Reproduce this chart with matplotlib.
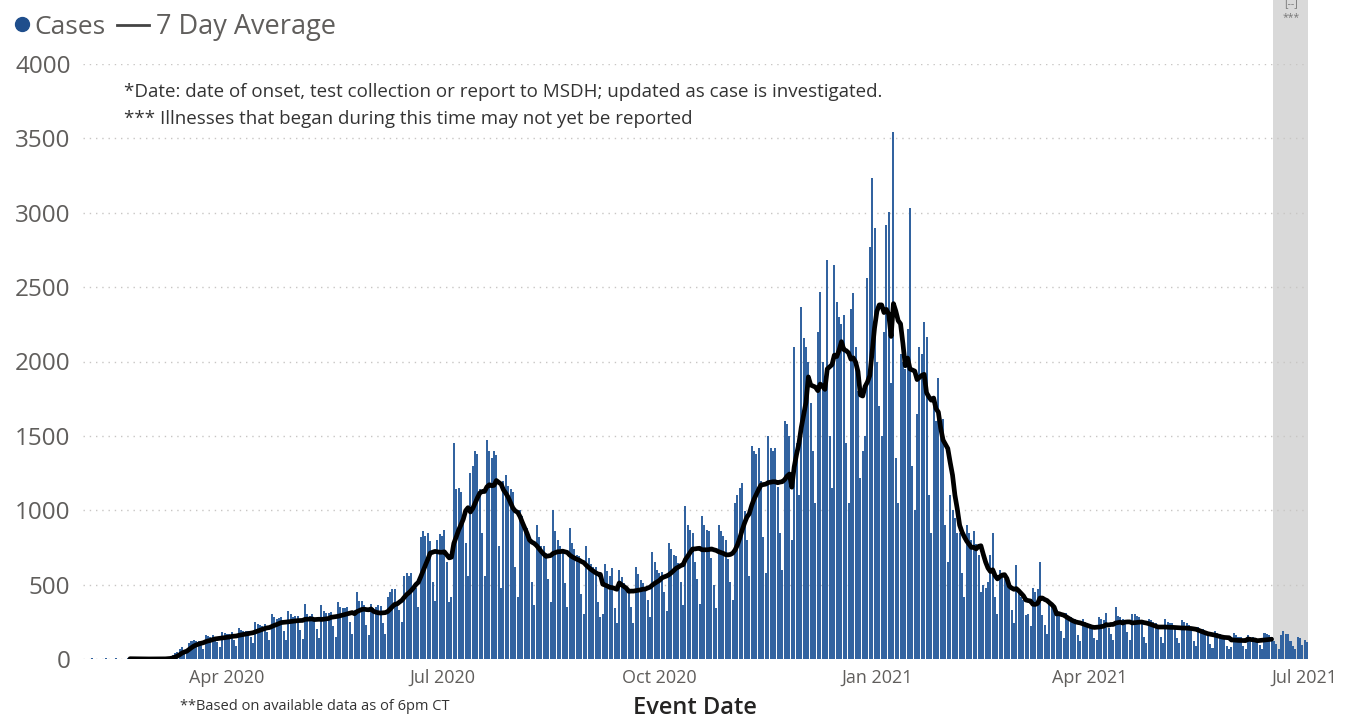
import numpy as np
import pandas as pd
import matplotlib
matplotlib.use("Agg")
import matplotlib.pyplot as plt
import matplotlib.dates as mdates
from matplotlib.lines import Line2D

plt.rcParams['font.family'] = ['Open Sans', 'DejaVu Sans']

# daily cases by event date, one row per week (Sat..Fri), first day 2020-02-01
feb_mar_2020 = [
    [0, 3, 0, 4, 2, 0, 3],
    [2, 0, 4, 3, 0, 2, 4],
    [0, 3, 2, 0, 4, 0, 2],
    [0, 0, 0, 1, 0, 0, 1],
    [0, 0, 1, 0, 1, 2, 3],
    [10, 8, 25, 38, 50, 68, 81],
    [60, 45, 110, 120, 125, 120, 120],
    [100, 70, 160, 155, 150, 160, 150],
    [115, 80, 180, 175, 165, 170, 179],
]
apr_jun_2020 = [
    [125, 90, 210, 195, 190, 190, 190],
    [150, 110, 250, 235, 230, 225, 235],
    [180, 125, 300, 285, 270, 275, 280],
    [190, 130, 320, 300, 285, 290, 291],
    [195, 135, 370, 305, 290, 300, 260],
    [205, 140, 360, 320, 310, 310, 315],
    [220, 150, 385, 350, 340, 340, 350],
    [250, 170, 330, 450, 390, 390, 365],
    [230, 160, 370, 340, 350, 360, 353],
    [240, 170, 420, 450, 470, 470, 370],
    [330, 250, 560, 580, 560, 580, 500],
    [480, 350, 820, 860, 830, 850, 794],
    [520, 390, 800, 840, 830, 870, 650],
]
jul_sep_2020 = [
    [380, 420, 1450, 1140, 1150, 1120, 920],
    [780, 560, 1250, 1300, 1400, 1380, 1142],
    [850, 560, 1470, 1400, 1350, 1400, 1370],
    [760, 480, 1200, 1240, 1160, 1140, 1125],
    [620, 420, 1000, 960, 900, 880, 820],
    [520, 360, 900, 820, 760, 760, 710],
    [540, 380, 1000, 860, 800, 760, 735],
    [510, 350, 880, 780, 740, 700, 695],
    [440, 300, 760, 680, 640, 620, 620],
    [380, 280, 300, 640, 590, 560, 610],
    [340, 240, 600, 550, 510, 480, 465],
    [350, 240, 620, 570, 530, 510, 470],
    [400, 280, 720, 650, 600, 580, 585],
]
oct_dec_2020 = [
    [450, 320, 780, 740, 700, 690, 646],
    [520, 360, 1030, 900, 870, 850, 650],
    [540, 370, 960, 900, 870, 860, 680],
    [500, 340, 900, 860, 830, 800, 670],
    [520, 400, 1050, 1100, 1150, 1180, 998],
    [800, 560, 1430, 1400, 1380, 1420, 1200],
    [820, 580, 1500, 1420, 1400, 1420, 1155],
    [850, 600, 1600, 1580, 1500, 800, 2100],
    [1450, 1100, 2366, 2158, 2100, 2000, 1720],
    [1400, 1050, 2200, 2467, 2000, 1850, 2683],
    [1500, 1150, 2649, 2400, 2300, 2250, 2311],
    [1450, 1050, 2350, 2460, 2100, 1800, 1215],
    [1400, 1500, 2560, 2770, 3234, 2900, 2000],
]
jan_mar_2021 = [
    [1700, 1500, 2200, 2918, 3005, 1857, 3543],
    [1350, 1050, 2050, 2000, 1950, 2218, 3032],
    [1300, 1000, 1650, 2100, 2050, 2265, 2165],
    [1100, 850, 1750, 1600, 1889, 1500, 1615],
    [900, 650, 1100, 1000, 950, 850, 850],
    [580, 420, 900, 850, 800, 860, 770],
    [700, 450, 500, 480, 520, 700, 850],
    [420, 300, 600, 560, 540, 520, 490],
    [330, 240, 632, 460, 420, 400, 297],
    [300, 220, 480, 450, 470, 652, 298],
    [230, 170, 380, 360, 350, 330, 315],
    [190, 140, 310, 290, 280, 270, 270],
    [160, 120, 270, 250, 240, 235, 230],
]
apr_jul_2021 = [
    [140, 130, 280, 270, 260, 310, 206],
    [170, 130, 348, 290, 280, 270, 248],
    [180, 130, 300, 300, 290, 280, 263],
    [150, 110, 270, 260, 250, 240, 225],
    [150, 110, 270, 250, 245, 240, 219],
    [140, 105, 260, 250, 240, 230, 210],
    [120, 90, 215, 205, 200, 190, 170],
    [100, 75, 185, 175, 170, 160, 150],
    [90, 70, 80, 175, 160, 150, 150],
    [85, 65, 160, 150, 145, 140, 116],
    [95, 70, 175, 165, 160, 150, 123],
    [100, 70, 160, 185, 170, 165, 120],
    [90, 70, 150, 140, 95, 125, 115],
]

first_day = '2020-02-01'
avg_start = '2020-02-20'
avg_end = '2021-06-17'
lag_start = '2021-06-18'   # shaded "may not yet be reported" window

tick_dates = ['2020-04-01', '2020-07-01', '2020-10-01', '2021-01-01', '2021-04-01', '2021-07-01']
tick_labels = ['Apr 2020', 'Jul 2020', 'Oct 2020', 'Jan 2021', 'Apr 2021', 'Jul 2021']
y_ticks = [0, 500, 1000, 1500, 2000, 2500, 3000, 3500, 4000]

cases = np.concatenate([np.ravel(s) for s in
                        [feb_mar_2020, apr_jun_2020, jul_sep_2020,
                         oct_dec_2020, jan_mar_2021, apr_jul_2021]])
dates = pd.date_range(first_day, periods=len(cases), freq='D')
series = pd.Series(cases, index=dates, dtype=float)
avg = series.rolling(7, min_periods=1).mean()
avg = avg[(avg.index >= avg_start) & (avg.index <= avg_end)]

W, H = 1351, 719
fig = plt.figure(figsize=(W / 100, H / 100), dpi=100)


def fx(x):
    return x / W


def fy(y):
    return 1 - y / H


left, right, top, bottom = 83, 1308, 64, 659
ax = fig.add_axes([fx(left), fy(bottom), (right - left) / W, (bottom - top) / H])

bar_blue = '#3263a0'
ax.bar(dates, cases, width=0.86, color=bar_blue, linewidth=0, zorder=2)
ax.plot(avg.index, avg.values, color='black', lw=3.4, solid_joinstyle='round',
        solid_capstyle='round', zorder=3)

x0 = mdates.date2num(pd.Timestamp(first_day)) - 0.9
x1 = mdates.date2num(dates[-1]) + 0.4
ax.set_xlim(x0, x1)
ax.set_ylim(0, 4000)

# shaded reporting-lag window, reaching up to the top edge of the figure
ax.axvspan(mdates.date2num(pd.Timestamp(lag_start)) - 0.5, x1, ymin=0,
           ymax=bottom / (bottom - top), color='#d9d9d9', lw=0, zorder=0, clip_on=False)

ax.set_yticks(y_ticks)
ax.set_xticks([mdates.date2num(pd.Timestamp(d)) for d in tick_dates])
ax.set_xticklabels(tick_labels)
ax.tick_params(axis='y', length=0, pad=9, labelsize=17.5, labelcolor='#605e5c')
ax.tick_params(axis='x', length=0, pad=7, labelsize=13, labelcolor='#605e5c')
ax.yaxis.grid(True, color='#c8c6c4', linestyle=(0, (1, 3.5)), linewidth=1)
ax.set_axisbelow(True)
for s in ax.spines.values():
    s.set_visible(False)

# legend across the top
fig.add_artist(Line2D([fx(22)], [fy(24)], marker='o', markersize=10,
                      color='#1f4e8c', transform=fig.transFigure))
fig.text(fx(34), fy(27), 'Cases', fontsize=19, color='#605e5c', va='center')
fig.add_artist(Line2D([fx(117), fx(149)], [fy(25), fy(25)], color='#444444',
                      lw=2, transform=fig.transFigure))
fig.text(fx(156), fy(27), '7 Day Average', fontsize=19.5, color='#605e5c', va='center')

fig.text(fx(124), fy(92), '*Date: date of onset, test collection or report to MSDH; '
         'updated as case is investigated.', fontsize=13.5, color='#333333', va='center')
fig.text(fx(124), fy(119), '*** Illnesses that began during this time may not yet be reported',
         fontsize=13.5, color='#333333', va='center')

fig.text(fx(1291), fy(4), '[--]', fontsize=7.5, color='#777777', ha='center', va='center')
fig.text(fx(1291), fy(18), '***', fontsize=7.5, color='#777777', ha='center', va='center')

fig.text(fx(180), fy(707), '**Based on available data as of 6pm CT', fontsize=10.5,
         color='#333333', va='center')
fig.text(fx(695), fy(708), 'Event Date', fontsize=17, fontweight='semibold',
         color='#252423', ha='center', va='center')

fig.savefig('out.png', dpi=100)
